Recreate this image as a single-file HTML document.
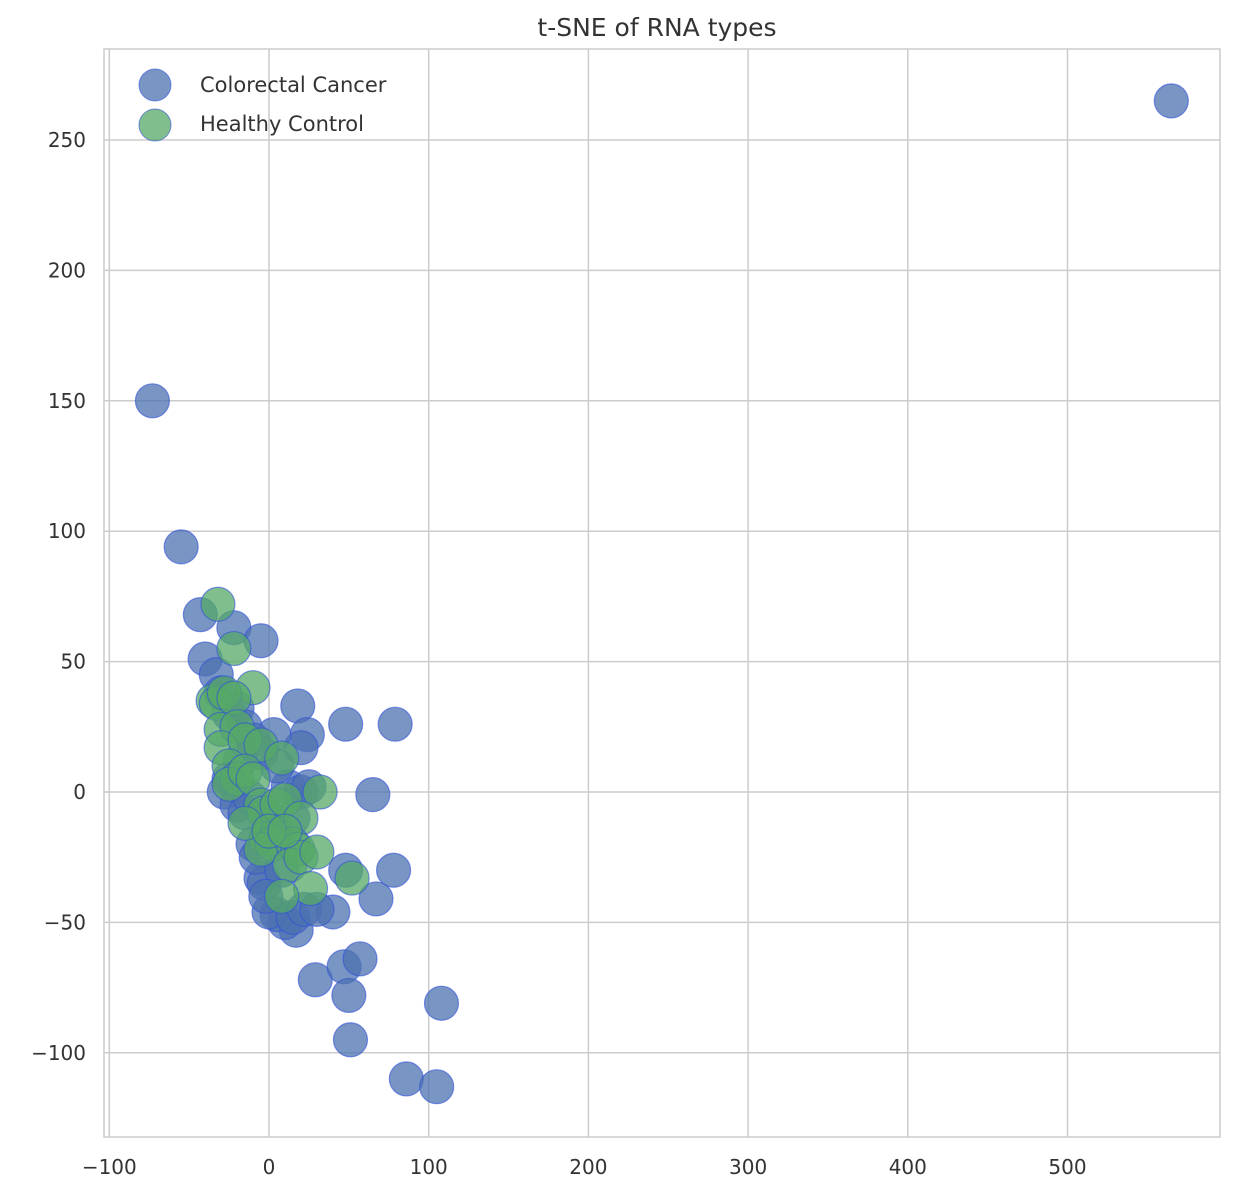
<!DOCTYPE html>
<html><head><meta charset="utf-8"><style>
body{margin:0;background:#fff;}
svg text{font-family:"DejaVu Sans","Liberation Sans",sans-serif;fill:#333;}
</style></head><body>
<svg id="chart" width="1234" height="1196" xmlns="http://www.w3.org/2000/svg">
<text x="657" y="36" font-size="25" text-anchor="middle">t-SNE of RNA types</text>
<rect x="104" y="49" width="1116" height="1088" fill="#fff" stroke="#ccc" stroke-width="1.5"/>
<g id="grid"></g><g id="pts"></g>
<g>
<circle cx="155" cy="85" r="16" fill="#4c72b0" fill-opacity="0.75" stroke="#3050d8" stroke-opacity="0.6"/>
<text x="200" y="92" font-size="21">Colorectal Cancer</text>
<circle cx="155" cy="125" r="16" fill="#55a868" fill-opacity="0.75" stroke="#3050d8" stroke-opacity="0.6"/>
<text x="200" y="131" font-size="21">Healthy Control</text>
</g>
</svg>
<script>
const xTicks=[-100,0,100,200,300,400,500];
const yTicks=[-100,-50,0,50,100,150,200,250];
const cancerX=[565,-73,-55,-43,-40,-22,-5,-33,18,48,79,24,20,3,65,78,67,48,40,29,47,57,50,51,108,86,105,17,10,5,0,-5,-3,-25,-28,-20,-15,-10,-8,15,22,12,20,25,-25,-20,-30,-15,-10,-5,5,0,5,15,30,-18,-12,8,-2];
const cancerY=[265,150,94,68,51,63,58,45,33,26,26,22,17,22,-1,-30,-41,-30,-46,-72,-67,-64,-78,-95,-81,-110,-113,-53,-50,-47,-46,-33,-35,5,0,-5,-8,-20,-25,-48,-45,2,0,2,30,32,38,25,20,15,10,-10,-15,-10,-45,12,-2,-30,-40];
const controlX=[-32,-22,-10,-35,-33,-28,-22,-30,-20,-30,-15,-5,8,-25,-20,-25,-15,-10,-5,-3,5,10,32,20,-2,2,-5,15,18,13,20,30,26,8,52,-15,0,10];
const controlY=[72,55,40,35,34,38,36,24,25,17,20,18,13,10,5,3,8,5,-5,-8,-5,-3,0,-10,-18,-20,-22,-20,-22,-28,-25,-23,-37,-40,-33,-12,-15,-15];
const sx=v=>269+v*1.597, sy=v=>792-v*2.608;
const NS='http://www.w3.org/2000/svg';
const grid=document.getElementById('grid'), svg=document.getElementById('chart');
function mk(tag,attrs,parent){const e=document.createElementNS(NS,tag);for(const k in attrs)e.setAttribute(k,attrs[k]);parent.appendChild(e);return e;}
xTicks.forEach(t=>{
 const l=mk('line',{x1:sx(t),x2:sx(t),y1:49,y2:1137,stroke:'#ccc','stroke-width':1.5},grid);
 
 
 const tx=mk('text',{x:sx(t),y:1174,'font-size':20,'text-anchor':'middle'},svg);
 tx.textContent=String(t).replace('-','\u2212');
 
 
});
yTicks.forEach(t=>{
 const l=mk('line',{x1:104,x2:1220,y1:sy(t),y2:sy(t),stroke:'#ccc','stroke-width':1.5},grid);
 
 
 const tx=mk('text',{x:86,y:sy(t)+7,'font-size':20,'text-anchor':'end'},svg);
 tx.textContent=String(t).replace('-','\u2212');
 
 
});
const pts=document.getElementById('pts');
cancerX.forEach((v,i)=>{
 const c=mk('circle',{cx:sx(v),cy:sy(cancerY[i]),r:17,fill:'#4c72b0','fill-opacity':0.75,stroke:'#3050d8','stroke-opacity':0.6,'stroke-width':1.2},pts);
 
 
});
controlX.forEach((v,i)=>{
 const c=mk('circle',{cx:sx(v),cy:sy(controlY[i]),r:17,fill:'#55a868','fill-opacity':0.75,stroke:'#3050d8','stroke-opacity':0.6,'stroke-width':1.2},pts);
 
 
});
</script>
</body></html>
